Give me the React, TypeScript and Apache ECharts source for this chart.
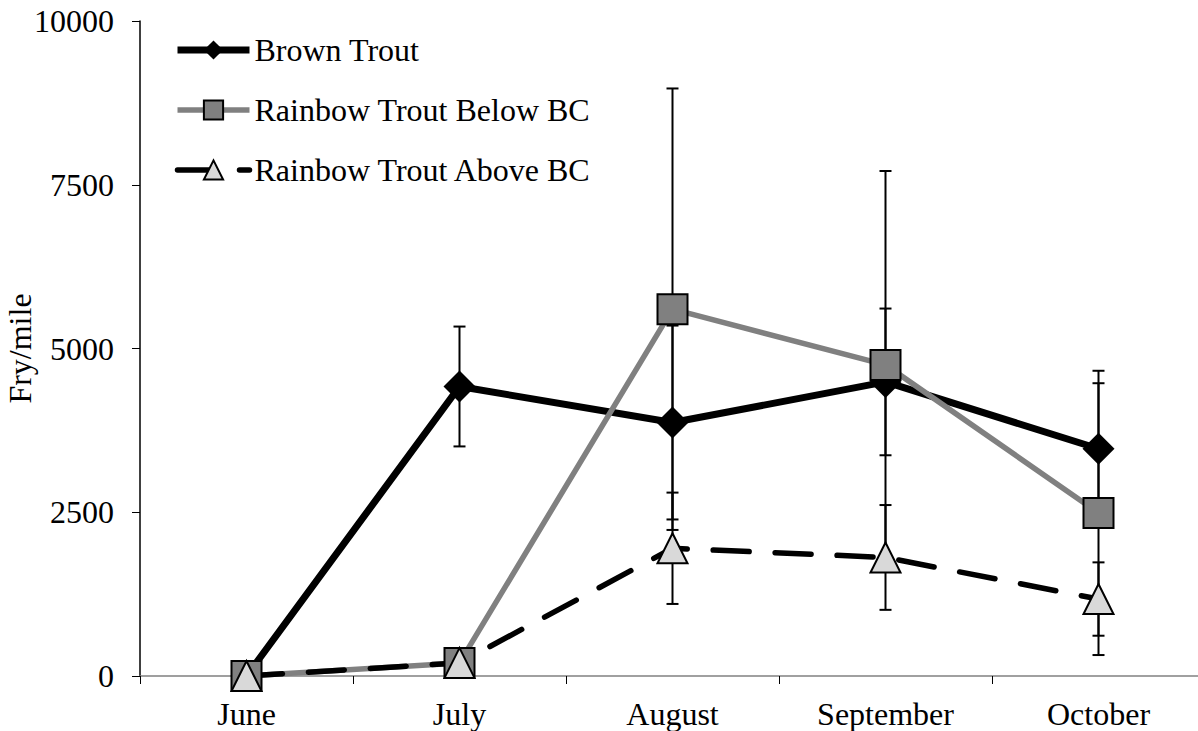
import React, { useEffect, useRef } from "react";
import * as echarts from "echarts";

const months = ["June", "July", "August", "September", "October"];
const brownTrout = [0, 4420, 3870, 4490, 3470];
const brownTroutErr = [0, 915, 1480, 1120, 1000];
const rainbowBelow = [0, 200, 5600, 4750, 2490];
const rainbowBelowErr = [0, 0, 3370, 2960, 2170];
const rainbowAbove = [0, 200, 1950, 1810, 1175];
const rainbowAboveErr = [0, 0, 850, 800, 560];
const yTicks = [0, 2500, 5000, 7500, 10000];

const FONT = "'Liberation Serif', 'Times New Roman', serif";
const FS = 32;

const brownLine = { color: "#000", width: 7 };
const belowLine = { color: "#808080", width: 5.5 };
const aboveLine = { color: "#000", width: 5.5, type: [36, 26], cap: "round" };

function errData(vals: number[], errs: number[]) {
  const out: number[][] = [];
  vals.forEach((v, i) => {
    if (errs[i] > 0) out.push([i, v - errs[i], v + errs[i]]);
  });
  return out;
}

function errSeries(name: string, vals: number[], errs: number[]) {
  return {
    type: "custom",
    name: name + " err",
    z: 1,
    silent: true,
    data: errData(vals, errs),
    encode: { x: 0, y: [1, 2] },
    renderItem: (params: any, api: any) => {
      const x = api.value(0);
      const lo = api.coord([x, api.value(1)]);
      const hi = api.coord([x, api.value(2)]);
      const hw = 6;
      const st = { stroke: "#000", lineWidth: 2 };
      return {
        type: "group",
        children: [
          { type: "line", shape: { x1: hi[0], y1: hi[1], x2: lo[0], y2: lo[1] }, style: st },
          { type: "line", shape: { x1: hi[0] - hw, y1: hi[1], x2: hi[0] + hw, y2: hi[1] }, style: st },
          { type: "line", shape: { x1: lo[0] - hw, y1: lo[1], x2: lo[0] + hw, y2: lo[1] }, style: st },
        ],
      };
    },
  };
}

export default function App() {
  const ref = useRef<HTMLDivElement>(null);
  useEffect(() => {
    if (!ref.current) return;
    const chart = echarts.init(ref.current, null, { renderer: "svg" });
    chart.setOption({
      animation: false,
      backgroundColor: "#fff",
      textStyle: { fontFamily: FONT },
      grid: {
        left: 140,
        top: 21,
        width: 1065,
        height: 655,
        containLabel: false,
        outerBoundsMode: "none",
      },
      legend: {
        data: [
          { name: "Brown Trout", lineStyle: brownLine },
          { name: "Rainbow Trout Below BC", lineStyle: belowLine },
          { name: "Rainbow Trout Above BC", lineStyle: aboveLine },
        ],
        orient: "vertical",
        left: 174,
        top: 34,
        padding: 0,
        itemWidth: 72,
        itemHeight: 24,
        itemGap: 28,
        textStyle: { fontFamily: FONT, fontSize: FS, color: "#000" },
        selectedMode: false,
      },
      xAxis: {
        type: "category",
        data: months,
        boundaryGap: true,
        axisLine: { lineStyle: { color: "#808080", width: 1.5 } },
        axisTick: { show: true, inside: false, length: 8, lineStyle: { color: "#000", width: 1 } },
        axisLabel: { fontFamily: FONT, fontSize: FS, color: "#000", margin: 22 },
        splitLine: { show: false },
      },
      yAxis: {
        type: "value",
        min: yTicks[0],
        max: yTicks[yTicks.length - 1],
        interval: 2500,
        name: "Fry/mile",
        nameLocation: "middle",
        nameRotate: 90,
        nameGap: 104,
        nameMoveOverlap: false,
        nameTextStyle: { fontFamily: FONT, fontSize: FS, color: "#000" },
        axisLine: { show: true, lineStyle: { color: "#000", width: 1.5 } },
        axisTick: { show: true, inside: false, length: 8, lineStyle: { color: "#000", width: 1 } },
        axisLabel: {
          fontFamily: FONT,
          fontSize: FS,
          color: "#000",
          margin: 26,
          formatter: (v: number) => String(v),
        },
        splitLine: { show: false },
      },
      series: [
        errSeries("Brown Trout", brownTrout, brownTroutErr),
        errSeries("Rainbow Trout Below BC", rainbowBelow, rainbowBelowErr),
        errSeries("Rainbow Trout Above BC", rainbowAbove, rainbowAboveErr),
        {
          type: "line",
          name: "Brown Trout",
          data: brownTrout,
          symbol: "diamond",
          symbolSize: 32,
          showAllSymbol: true,
          lineStyle: brownLine,
          itemStyle: { color: "#000", borderColor: "#000", borderWidth: 0 },
        },
        {
          type: "line",
          name: "Rainbow Trout Below BC",
          data: rainbowBelow,
          symbol: "rect",
          symbolSize: 30,
          lineStyle: belowLine,
          itemStyle: { color: "#808080", borderColor: "#000", borderWidth: 2 },
        },
        {
          type: "line",
          name: "Rainbow Trout Above BC",
          data: rainbowAbove,
          symbol: "triangle",
          symbolSize: 30,
          lineStyle: aboveLine,
          itemStyle: { color: "#d9d9d9", borderColor: "#000", borderWidth: 2 },
        },
      ],
    });
    return () => chart.dispose();
  }, []);
  return (
    <div
      ref={ref}
      style={{ position: "fixed", left: 0, top: 0, width: 1198, height: 731 }}
    />
  );
}
